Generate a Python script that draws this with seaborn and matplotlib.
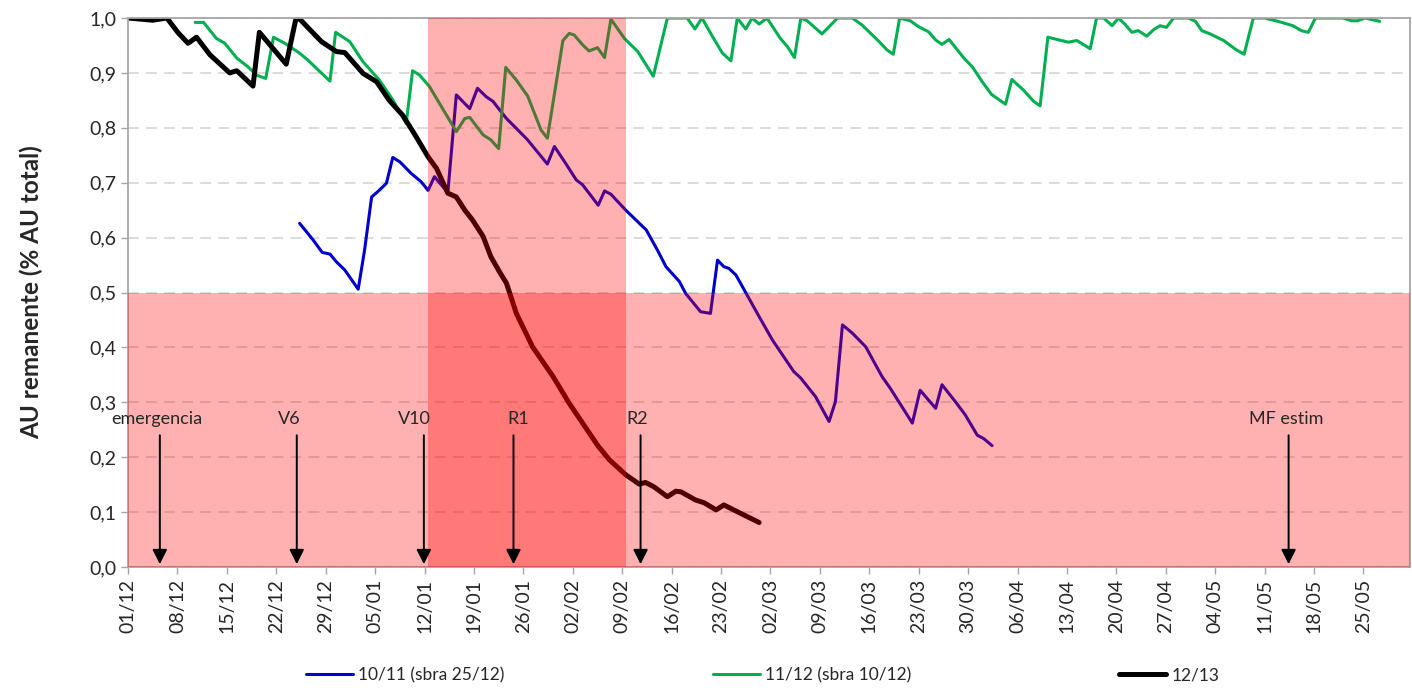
import matplotlib
matplotlib.use("Agg")
import matplotlib.pyplot as plt
import seaborn as sns
import pandas as pd

# days counted from 01/12
days_1011 = [24.3, 26.2, 27.5, 28.6, 29.5, 30.7, 32.6, 33.5, 34.5, 35.4, 36.6, 37.5, 38.5, 40.1, 41.5,
             42.5, 43.4, 45.3, 46.5, 48.4, 49.5, 50.7, 51.7, 53.6, 55.0, 56.6, 59.4, 60.4, 62.0, 63.5,
             64.4, 66.6, 67.5, 68.4, 70.5, 73.4, 75.0, 76.2, 78.1, 79.0, 81.1, 82.5, 83.5, 84.4, 85.1,
             86.1, 89.4, 91.3, 94.3, 95.3, 97.4, 99.3, 100.2, 101.2, 102.6, 104.5, 106.8, 108.0, 111.1,
             112.2, 114.4, 115.3, 117.2, 118.6, 120.3, 121.2, 122.4]
au_1011 = [0.626, 0.596, 0.573, 0.570, 0.556, 0.541, 0.506, 0.577, 0.674, 0.684, 0.699, 0.746, 0.738, 0.717, 0.702,
           0.686, 0.711, 0.682, 0.860, 0.835, 0.872, 0.857, 0.848, 0.817, 0.799, 0.778, 0.734, 0.766, 0.735, 0.705,
           0.696, 0.659, 0.685, 0.679, 0.650, 0.614, 0.577, 0.547, 0.520, 0.498, 0.465, 0.462, 0.559, 0.547, 0.544,
           0.532, 0.456, 0.413, 0.356, 0.344, 0.310, 0.265, 0.301, 0.441, 0.426, 0.401, 0.347, 0.325, 0.262,
           0.322, 0.289, 0.332, 0.301, 0.277, 0.240, 0.234, 0.221]

days_1112 = [9.5, 10.7, 12.5, 13.7, 15.4, 17.0, 18.2, 19.5, 20.6, 22.2, 24.3, 25.5, 28.6, 29.4, 31.4, 33.3,
             35.6, 37.5, 39.4, 40.3, 41.3, 42.7, 46.5, 47.7, 48.4, 50.3, 51.4, 52.5, 53.5, 55.0, 56.6, 58.5,
             59.4, 61.6, 62.5, 63.2, 64.4, 65.3, 66.5, 67.5, 68.4, 70.3, 72.2, 74.4, 76.4, 79.2, 80.3, 81.3,
             82.8, 84.2, 85.4, 86.3, 87.5, 88.4, 89.4, 90.5, 92.4, 93.4, 94.4, 95.3, 96.2, 98.3, 100.5, 102.6,
             104.0, 106.4, 107.5, 108.4, 109.3, 110.8, 112.0, 113.4, 114.4, 115.3, 116.3, 118.4, 119.6, 121.0,
             122.3, 124.3, 125.2, 126.9, 128.3, 129.2, 130.3, 133.2, 134.4, 136.3, 137.2, 138.2, 139.4, 140.3,
             141.2, 142.2, 143.1, 144.3, 145.3, 146.2, 147.1, 148.1, 150.2, 151.2, 152.1, 153.3, 155.2, 157.0,
             158.1, 159.4, 161.0, 162.9, 165.0, 166.2, 167.2, 168.2, 172.1, 173.3, 174.2, 175.2, 177.3]
au_1112 = [0.992, 0.992, 0.963, 0.954, 0.927, 0.911, 0.896, 0.890, 0.965, 0.954, 0.936, 0.923, 0.885, 0.974, 0.957, 0.920,
           0.887, 0.851, 0.808, 0.904, 0.896, 0.875, 0.793, 0.817, 0.819, 0.787, 0.778, 0.762, 0.910, 0.887, 0.858, 0.796,
           0.781, 0.959, 0.972, 0.969, 0.951, 0.940, 0.946, 0.928, 0.998, 0.963, 0.939, 0.894, 1.000, 1.000, 0.980, 1.000,
           0.966, 0.936, 0.922, 1.000, 0.980, 1.000, 0.989, 1.000, 0.963, 0.948, 0.928, 1.000, 0.995, 0.971, 1.000, 1.000,
           0.987, 0.957, 0.942, 0.934, 1.000, 0.995, 0.984, 0.975, 0.960, 0.952, 0.961, 0.927, 0.911, 0.884,
           0.861, 0.843, 0.888, 0.868, 0.848, 0.840, 0.965, 0.956, 0.959, 0.944, 1.000, 1.000, 0.986, 1.000,
           0.989, 0.974, 0.977, 0.967, 0.979, 0.986, 0.983, 1.000, 1.000, 0.994, 0.977, 0.971, 0.959, 0.942,
           0.934, 1.000, 1.000, 0.994, 0.986, 0.977, 0.974, 1.000, 1.000, 0.995, 0.995, 1.000, 0.994]

days_1213 = [0.0, 3.5, 5.5, 7.1, 8.5, 9.7, 11.6, 14.4, 15.4, 17.7, 18.6, 22.4, 23.8, 24.4, 27.4, 29.5, 30.7,
             33.3, 35.2, 37.0, 38.9, 40.8, 42.5, 43.7, 45.3, 46.5, 47.7, 48.8, 50.3, 51.4, 52.6, 53.6, 55.0,
             57.3, 60.2, 62.5, 66.6, 68.2, 70.5, 72.4, 73.3, 74.5, 76.4, 77.6, 78.3, 80.4, 81.6, 83.3, 84.4,
             86.1, 89.4]
au_1213 = [1.000, 0.996, 1.000, 0.973, 0.954, 0.965, 0.933, 0.900, 0.904, 0.876, 0.974, 0.916, 1.000, 0.997, 0.957, 0.939, 0.937,
           0.899, 0.884, 0.850, 0.823, 0.784, 0.747, 0.726, 0.681, 0.674, 0.650, 0.632, 0.602, 0.565, 0.538, 0.517, 0.462,
           0.401, 0.347, 0.298, 0.220, 0.195, 0.168, 0.151, 0.154, 0.146, 0.128, 0.138, 0.137, 0.122, 0.117, 0.104, 0.113,
           0.102, 0.081]

tick_days = list(range(0, 176, 7))
tick_labels = ["01/12", "08/12", "15/12", "22/12", "29/12", "05/01", "12/01", "19/01", "26/01", "02/02",
               "09/02", "16/02", "23/02", "02/03", "09/03", "16/03", "23/03", "30/03", "06/04", "13/04",
               "20/04", "27/04", "04/05", "11/05", "18/05", "25/05"]
y_ticks = [0.0, 0.1, 0.2, 0.3, 0.4, 0.5, 0.6, 0.7, 0.8, 0.9, 1.0]

stages = ["emergencia", "V6", "V10", "R1", "R2", "MF estim"]
stage_days = [4.5, 23.9, 41.9, 54.6, 72.6, 164.4]
stage_text_days = [4.1, 22.9, 40.6, 55.2, 72.1, 164.0]
critical_period = (42.5, 70.6)

sns.set_style("white")
plt.rcParams['font.family'] = ['Lato', 'DejaVu Sans']

fig, ax = plt.subplots(figsize=(14.12, 6.88), dpi=100)
fig.subplots_adjust(left=0.0907, right=0.9986, top=0.9738, bottom=0.1759)

sns.lineplot(x=days_1011, y=au_1011, ax=ax, color="#0000CC", linewidth=2.2, label="10/11 (sbra 25/12)", zorder=2)
sns.lineplot(x=days_1112, y=au_1112, ax=ax, color="#00B050", linewidth=2.2, label="11/12 (sbra 10/12)", zorder=2)
sns.lineplot(x=days_1213, y=au_1213, ax=ax, color="black", linewidth=3.6, label="12/13", zorder=2)

# shading on top of the lines, like the original
ax.axhspan(0, 0.5, color="red", alpha=0.31, lw=0, zorder=3)
ax.axvspan(*critical_period, color="red", alpha=0.31, lw=0, zorder=3)

for name, d, td in zip(stages, stage_days, stage_text_days):
    ax.annotate("", xy=(d, 0.0), xytext=(d, 0.245),
                arrowprops=dict(arrowstyle="-|>", color="black", lw=1.4, mutation_scale=22), zorder=4)
    ax.text(td, 0.27, name, ha="center", va="center", fontsize=13, zorder=4)

ax.set_xlim(0, 181.6)
ax.set_ylim(0, 1)
ax.set_xticks(tick_days)
ax.set_xticklabels(tick_labels, rotation=90, fontsize=14)
ax.set_yticks(y_ticks)
ax.set_yticklabels([f"{v:.1f}".replace(".", ",") for v in y_ticks], fontsize=14)
ax.tick_params(axis="both", direction="out", length=5, color="#A6A6A6", width=1, bottom=True, left=True)
ax.yaxis.grid(True, color="#D9D9D9", linestyle=(0, (6, 4)), linewidth=1.3, zorder=1)
ax.set_axisbelow(True)
for s in ax.spines.values():
    s.set_color("#A6A6A6")
    s.set_linewidth(1.3)
ax.set_xlabel("")
ax.set_ylabel("AU remanente (% AU total)", fontsize=17.5, fontweight="bold", labelpad=33)

ax.legend(loc="center", bbox_to_anchor=(0.495, -0.197), ncol=3, frameon=False, fontsize=12.5,
          handlelength=2.7, handletextpad=0.3, columnspacing=12.0)

fig.savefig("out.png", dpi=100)
